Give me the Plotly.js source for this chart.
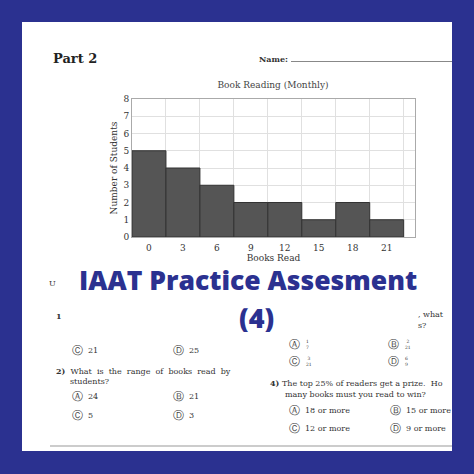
<!DOCTYPE html>
<html><head><meta charset="utf-8">
<script src="https://cdn.plot.ly/plotly-3.0.1.min.js"></script>
<style>html,body{margin:0;padding:0;background:#2b3190}#c{width:474px;height:474px}</style>
</head><body><div id="c"></div>
<script>
const booksRead = [0, 3, 6, 9, 12, 15, 18, 21];
const students = [5, 4, 3, 2, 2, 1, 2, 1];
const tickLabels = ['0', '3', '6', '9', '12', '15', '18', '21'];
const yTicks = [0, 1, 2, 3, 4, 5, 6, 7, 8];

const W = 474, H = 474;
const L = 132, R = 415, T = 99, B = 237;
const px = x => (x - L) / (R - L);
const py = y => (B - y) / (B - T);
const serif = '"DejaVu Serif", "Liberation Serif", serif';
const blue = '#2b3190';

function txt(x, y, s, size, opts) {
  opts = opts || {};
  return Object.assign({
    xref: 'paper', yref: 'paper', x: px(x), y: py(y), text: s, showarrow: false,
    xanchor: 'left', yanchor: 'middle',
    font: {family: serif, size: size, color: '#333'}
  }, opts);
}
function opt(x, y, letter, val) {
  return [
    txt(x - 2, y, letter, 10.5, {font: {family: '"DejaVu Sans", sans-serif', size: 10.5, color: '#444'}}),
    txt(x + 14, y, val, 8)
  ];
}
function frac(x, y, letter, num, den) {
  return [
    txt(x - 2, y, letter, 10.5, {font: {family: '"DejaVu Sans", sans-serif', size: 10.5, color: '#444'}}),
    txt(x + 15, y, num + '<br>' + den, 4.5)
  ];
}

const bigFont = {family: '"Open Sans", sans-serif', size: 26.5, color: blue, weight: 800};
const annotations = [
  txt(51, 58, '<b>Part 2</b>', 13, {font: {family: serif, size: 13, color: '#222'}}),
  txt(257, 59, '<b>Name:</b>', 8),
  txt(47, 283, 'U', 8),
  txt(54, 316, '<b>1</b>', 8),
  txt(416, 314, ', what', 8),
  txt(416, 325, 's?', 8),
  ...opt(72, 350, 'Ⓒ', '21'),
  ...opt(173, 350, 'Ⓓ', '25'),
  ...frac(289, 344, 'Ⓐ', '1', '7'),
  ...frac(388, 344, 'Ⓑ', '2', '21'),
  ...frac(289, 361, 'Ⓒ', '3', '21'),
  ...frac(388, 361, 'Ⓓ', '6', '9'),
  txt(54, 371, '<b>2)</b>  What  is  the  range  of  books  read  by', 8),
  txt(68, 382, 'students?', 8),
  ...opt(72, 396, 'Ⓐ', '24'),
  ...opt(173, 396, 'Ⓑ', '21'),
  ...opt(72, 415, 'Ⓒ', '5'),
  ...opt(173, 415, 'Ⓓ', '3'),
  txt(268, 383, '<b>4)</b> The top 25% of readers get a prize.  Ho', 8),
  txt(283, 394, 'many books must you read to win?', 8),
  ...opt(289, 410, 'Ⓐ', '18 or more'),
  ...opt(390, 410, 'Ⓑ', '15 or more'),
  ...opt(289, 428, 'Ⓒ', '12 or more'),
  ...opt(390, 428, 'Ⓓ', '9 or more'),
  txt(248, 280, 'IAAT Practice Assesment', 26.5, {xanchor: 'center', font: bigFont}),
  txt(256, 317, '(4)', 27, {xanchor: 'center', font: Object.assign({}, bigFont, {size: 27})})
];

const shapes = [
  {type: 'rect', xref: 'paper', yref: 'paper', x0: px(22), x1: px(452), y0: py(22), y1: py(451), fillcolor: '#fff', line: {width: 0}, layer: 'below'},
  {type: 'line', xref: 'paper', yref: 'paper', x0: px(291), x1: px(452), y0: py(61.5), y1: py(61.5), line: {color: '#888', width: 1}},
  {type: 'line', xref: 'paper', yref: 'paper', x0: px(50), x1: px(452), y0: py(446), y1: py(446), line: {color: '#bbb', width: 1.5}}
];

const data = [{
  type: 'bar', x: booksRead, y: students, width: 3,
  marker: {color: '#555555', line: {color: '#333', width: 1}},
  hoverinfo: 'skip'
}];

const axFont = {family: serif, size: 9, color: '#333'};
const layout = {
  width: W, height: H,
  margin: {l: L, r: W - R, t: T, b: H - B, pad: 0},
  paper_bgcolor: blue, plot_bgcolor: '#fff',
  showlegend: false,
  title: {text: 'Book Reading (Monthly)', font: {family: serif, size: 9, color: '#444'}, xref: 'container', x: 273 / W, xanchor: 'center', yref: 'container', y: 1 - 85 / H, yanchor: 'middle'},
  xaxis: {
    range: [-1.5, 23.5], tickvals: booksRead, ticktext: tickLabels,
    showgrid: false, zeroline: false, ticks: '',
    tickfont: axFont, ticklabelstandoff: 2,
    minor: {tick0: 1.5, dtick: 3, showgrid: true, gridcolor: '#e0e0e0', gridwidth: 1, ticks: ''},
    showline: true, mirror: true, linecolor: '#aaa', linewidth: 1,
    title: {text: 'Books Read', font: axFont, standoff: 0}
  },
  yaxis: {
    range: [0, 8], tickvals: yTicks, gridcolor: '#e0e0e0', zeroline: false, ticks: '',
    tickfont: axFont,
    showline: true, mirror: true, linecolor: '#aaa', linewidth: 1,
    title: {text: 'Number of Students', font: axFont, standoff: 4}
  },
  bargap: 0,
  shapes: shapes,
  annotations: annotations
};
Plotly.newPlot('c', data, layout, {displayModeBar: false, staticPlot: true});
</script></body></html>
